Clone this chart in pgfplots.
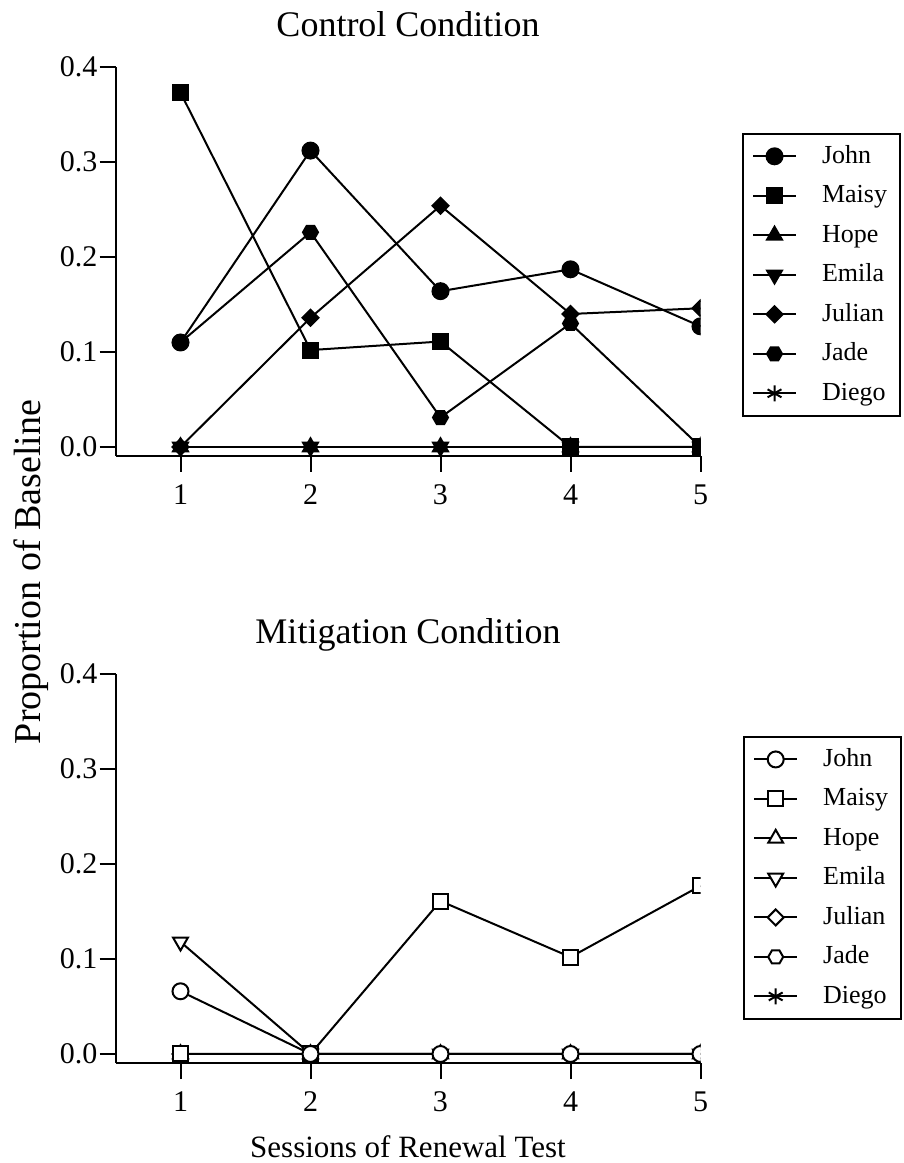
\documentclass[border=0pt]{standalone}
\usepackage{fontspec}
\setmainfont{Liberation Serif}
\usepackage{pgfplots}
\usepackage{pgfplotstable}
\pgfplotsset{compat=1.18}
\usetikzlibrary{plotmarks}

\pgfdeclareplotmark{hexagon*}{%
  \pgfpathmoveto{\pgfqpointpolar{0}{\pgfplotmarksize}}%
  \pgfpathlineto{\pgfqpointpolar{60}{\pgfplotmarksize}}%
  \pgfpathlineto{\pgfqpointpolar{120}{\pgfplotmarksize}}%
  \pgfpathlineto{\pgfqpointpolar{180}{\pgfplotmarksize}}%
  \pgfpathlineto{\pgfqpointpolar{240}{\pgfplotmarksize}}%
  \pgfpathlineto{\pgfqpointpolar{300}{\pgfplotmarksize}}%
  \pgfpathclose
  \pgfusepathqfillstroke}
\pgfdeclareplotmark{rhombus*}{%
  \pgfpathmoveto{\pgfqpoint{0pt}{\pgfplotmarksize}}%
  \pgfpathlineto{\pgfqpoint{\pgfplotmarksize}{0pt}}%
  \pgfpathlineto{\pgfqpoint{0pt}{-\pgfplotmarksize}}%
  \pgfpathlineto{\pgfqpoint{-\pgfplotmarksize}{0pt}}%
  \pgfpathclose
  \pgfusepathqfillstroke}

\pgfplotstableread{
x John Maisy Hope Emila Julian Jade Diego
1 0.110 0.373 0 0 0     0.110 0
2 0.312 0.102 0 0 0.136 0.226 0
3 0.164 0.111 0 0 0.254 0.031 0
4 0.187 0     0 0 0.140 0.130 0
5 0.127 0     0 0 0.146 0     0
}\controltable

\pgfplotstableread{
x John Maisy Hope Emila Julian Jade Diego
1 0.066 0     0 0.118 0 0 0
2 0     0     0 0     0 0 0
3 0     0.161 0 0     0 0 0
4 0     0.102 0 0     0 0 0
5 0     0.177 0 0     0 0 0
}\mitigtable

\pgfplotsset{
  every axis title shift=0pt,
  myaxis/.style={
    scale only axis, width=292.5pt, height=194.5pt,
    xmin=0.5, xmax=5, ymin=-0.0095, ymax=0.4,
    axis lines*=left,
    axis line style={line width=1pt},
    xtick={1,2,3,4,5}, ytick={0,0.1,0.2,0.3,0.4},
    tick align=outside, major tick length=8pt,
    tick style={line width=1pt, black},
    yticklabel style={/tikz/xshift=2.5pt, /pgf/number format/.cd, fixed, fixed zerofill, precision=1},
    xticklabel style={/tikz/yshift=-3pt},
    /pgf/number format/assume math mode=true,
    tick label style={font=\fontsize{15}{18}\selectfont},
    title style={font=\fontsize{18}{21}\selectfont, at={(0.5,1)}, anchor=base, yshift=15pt},
    clip marker paths=true,
    every axis plot/.append style={line width=1pt, black},
    legend cell align=left,
    reverse legend,
    legend style={draw=black, line width=1pt, font=\fontsize{13}{15.6}\selectfont,
      anchor=north west, inner xsep=4.5pt, inner ysep=2.6pt,
      nodes={inner sep=2pt, text height=10pt, text depth=3pt},
      row sep=2.75pt,
      /tikz/every odd column/.append style={column sep=10.5pt}},
    legend image code/.code={\draw[mark repeat=2, mark phase=2, #1] plot coordinates {(0pt,0pt) (10.75pt,0pt) (21.5pt,0pt)};},
  }
}

\begin{document}
\begin{tikzpicture}
\path[use as bounding box] (0,0) rectangle (452pt,581.5pt);

% Control condition (series drawn last-to-first so that the first lies on top)
\begin{axis}[myaxis, at={(57.75pt,353.5pt)}, anchor=south west,
  title={Control Condition},
  legend style={at={(axis description cs:1.071,0.83)}}]
\addplot[mark=asterisk, mark size=4pt] table[x=x, y=Diego] {\controltable};
\addlegendentry{Diego}
\addplot[mark=hexagon*, mark size=3.75pt] table[x=x, y=Jade] {\controltable};
\addlegendentry{Jade}
\addplot[mark=rhombus*, mark size=4pt] table[x=x, y=Julian] {\controltable};
\addlegendentry{Julian}
\addplot[mark=triangle*, mark size=4.3pt, mark options={rotate=180}] table[x=x, y=Emila] {\controltable};
\addlegendentry{Emila}
\addplot[mark=triangle*, mark size=4.3pt] table[x=x, y=Hope] {\controltable};
\addlegendentry{Hope}
\addplot[mark=square*, mark size=3.75pt] table[x=x, y=Maisy] {\controltable};
\addlegendentry{Maisy}
\addplot[mark=*, mark size=4pt] table[x=x, y=John] {\controltable};
\addlegendentry{John}
\end{axis}

% Mitigation condition
\begin{axis}[myaxis, at={(57.75pt,50pt)}, anchor=south west,
  title={Mitigation Condition},
  xlabel={Sessions of Renewal Test},
  xlabel style={at={(axis description cs:0.5,0)}, anchor=base, yshift=-47pt, font=\fontsize{15.5}{18}\selectfont},
  legend style={at={(axis description cs:1.073,0.84)}}]
\addplot[mark=asterisk, mark size=4pt] table[x=x, y=Diego] {\mitigtable};
\addlegendentry{Diego}
\addplot[mark=hexagon*, mark size=3.75pt, mark options={fill=white}] table[x=x, y=Jade] {\mitigtable};
\addlegendentry{Jade}
\addplot[mark=rhombus*, mark size=4pt, mark options={fill=white}] table[x=x, y=Julian] {\mitigtable};
\addlegendentry{Julian}
\addplot[mark=triangle*, mark size=4.3pt, mark options={fill=white, rotate=180}] table[x=x, y=Emila] {\mitigtable};
\addlegendentry{Emila}
\addplot[mark=triangle*, mark size=4.3pt, mark options={fill=white}] table[x=x, y=Hope] {\mitigtable};
\addlegendentry{Hope}
\addplot[mark=square*, mark size=3.75pt, mark options={fill=white}] table[x=x, y=Maisy] {\mitigtable};
\addlegendentry{Maisy}
\addplot[mark=*, mark size=4pt, mark options={fill=white}] table[x=x, y=John] {\mitigtable};
\addlegendentry{John}
\end{axis}

\node[rotate=90, font=\fontsize{19}{23}\selectfont] at (15.5pt,295.5pt) {Proportion of Baseline};
\end{tikzpicture}
\end{document}
